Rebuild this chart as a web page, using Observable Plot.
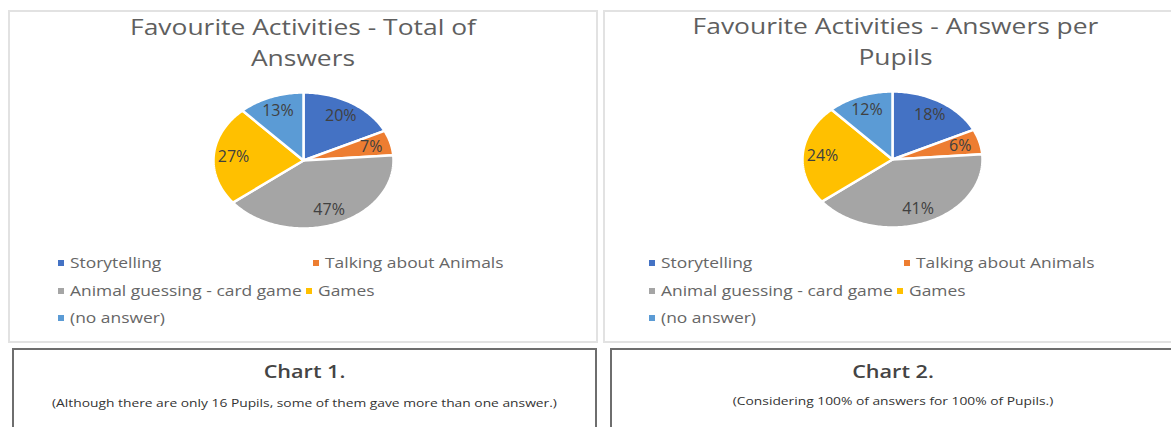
<!DOCTYPE html>
<html>
<head>
<meta charset="utf-8">
<script src="https://cdn.jsdelivr.net/npm/d3@7"></script>
<script src="https://cdn.jsdelivr.net/npm/@observablehq/plot@0.6"></script>
<style>
  html, body { margin: 0; padding: 0; background: #fff; }
  #page { position: relative; width: 1171px; height: 427px; overflow: hidden; font-family: "Open Sans", "DejaVu Sans", sans-serif; }
  .frame { position: absolute; border: 2px solid #e2e2e2; box-sizing: border-box; }
  .title { position: absolute; text-align: center; color: #5f5f5f; font-size: 22px; line-height: 31px; transform: scaleX(1.2); }
  .pie { position: absolute; }
  .leg { position: absolute; color: #666; font-size: 14.5px; white-space: nowrap; line-height: 16px; transform: scaleX(1.2); transform-origin: left center; }
  .leg i { display: inline-block; width: 5px; height: 6px; margin-right: 5px; vertical-align: 2px; }
  .box { position: absolute; border: 2px solid #6e6e6e; box-sizing: border-box; background: #fff; }
  .boxhead { position: absolute; text-align: center; color: #444; font-size: 18px; font-weight: 600; line-height: 24px; transform: scaleX(1.2); }
  .boxnote { position: absolute; text-align: center; color: #333; font-size: 11.5px; line-height: 14px; transform: scaleX(1.2); }
</style>
</head>
<body>
<div id="page"></div>
<script>
// ---- data ----
const categories = ["Storytelling", "Talking about Animals", "Animal guessing - card game", "Games", "(no answer)"];
const sliceShares = [18, 6, 41, 24, 12];          // slice sizes (percent of answers)
const chart1Labels = [20, 7, 47, 27, 13];         // labels shown on Chart 1
const chart2Labels = [18, 6, 41, 24, 12];         // labels shown on Chart 2
const sliceColors = ["#4472C4", "#ED7D31", "#A5A5A5", "#FFC000", "#5B9BD5"];
const chartTitles = [["Favourite Activities - Total of", "Answers"], ["Favourite Activities - Answers per", "Pupils"]];
const boxHeads = ["Chart 1.", "Chart 2."];
const boxNotes = ["(Although there are only 16 Pupils, some of them gave more than one answer.)",
                  "(Considering 100% of answers for 100% of Pupils.)"];

const page = document.getElementById("page");

function el(cls, css, html) {
  const d = document.createElement("div");
  d.className = cls;
  Object.assign(d.style, css);
  if (html != null) d.innerHTML = html;
  page.appendChild(d);
  return d;
}

function pieGeometry(values, labels) {
  const total = d3.sum(values);
  const pts = [], lab = [];
  let acc = 0;
  values.forEach((v, i) => {
    const cat = categories[i];
    const a0 = acc / total * 2 * Math.PI;
    const a1 = (acc + v) / total * 2 * Math.PI;
    acc += v;
    pts.push({cat, x: 0, y: 0});
    const n = Math.max(2, Math.ceil((a1 - a0) / (Math.PI / 180)));
    for (let k = 0; k <= n; k++) {
      const a = a0 + (a1 - a0) * k / n;
      pts.push({cat, x: Math.sin(a), y: Math.cos(a)});
    }
    pts.push({cat, x: 0, y: 0});
    const am = (a0 + a1) / 2, r = 0.78;
    lab.push({cat, x: r * Math.sin(am), y: r * Math.cos(am), text: labels[i] + "%"});
  });
  return {pts, lab};
}

function drawPie(labels, cx, cy) {
  const rx = 90, ry = 68, m = 10;
  const {pts, lab} = pieGeometry(sliceShares, labels);
  const svg = Plot.plot({
    width: 2 * rx + 2 * m,
    height: 2 * ry + 2 * m,
    margin: m,
    x: {domain: [-1, 1], axis: null},
    y: {domain: [-1, 1], axis: null},
    color: {domain: categories, range: sliceColors},
    style: {background: "transparent", fontFamily: "Open Sans, sans-serif"},
    marks: [
      Plot.line(pts, {x: "x", y: "y", z: "cat", fill: "cat", stroke: "white", strokeWidth: 2.5, strokeLinejoin: "round"}),
      Plot.text(lab, {x: "x", y: "y", text: "text", fill: "#404040", fontSize: 16})
    ]
  });
  const wrap = el("pie", {left: (cx - rx - m) + "px", top: (cy - ry - m) + "px"});
  wrap.appendChild(svg);
}

function legItem(i, x, y) {
  return el("leg", {left: x + "px", top: (y - 8) + "px"},
     `<i style="background:${sliceColors[i]}"></i>${categories[i]}`);
}

function drawLegend(x0, rows) {
  legItem(0, x0, rows[0]);
  const a = legItem(2, x0, rows[1]);
  const r = a.getBoundingClientRect();
  const pr = page.getBoundingClientRect();
  const gx = r.right - pr.left + 4;
  legItem(3, gx, rows[1]);
  legItem(1, gx + 7, rows[0]);
  legItem(4, x0, rows[2]);
}

// ---- left panel ----
el("frame", {left: "8px", top: "10px", width: "590px", height: "333px"});
el("title", {left: "8px", top: "11px", width: "590px"}, chartTitles[0].join("<br>"));
drawPie(chart1Labels, 303, 160);
drawLegend(58, [263, 291, 318]);

// ---- right panel ----
el("frame", {left: "603px", top: "10px", width: "585px", height: "333px"});
el("title", {left: "603px", top: "10px", width: "585px"}, chartTitles[1].join("<br>"));
drawPie(chart2Labels, 892, 159);
drawLegend(649, [263, 291, 318]);

// ---- caption boxes ----
el("box", {left: "12px", top: "348px", width: "585px", height: "100px"});
el("boxhead", {left: "12px", top: "359px", width: "585px"}, boxHeads[0]);
el("boxnote", {left: "12px", top: "396px", width: "585px"}, boxNotes[0]);
el("box", {left: "610px", top: "348px", width: "566px", height: "100px"});
el("boxhead", {left: "610px", top: "359px", width: "566px"}, boxHeads[1]);
el("boxnote", {left: "610px", top: "394px", width: "566px"}, boxNotes[1]);
</script>
</body>
</html>
